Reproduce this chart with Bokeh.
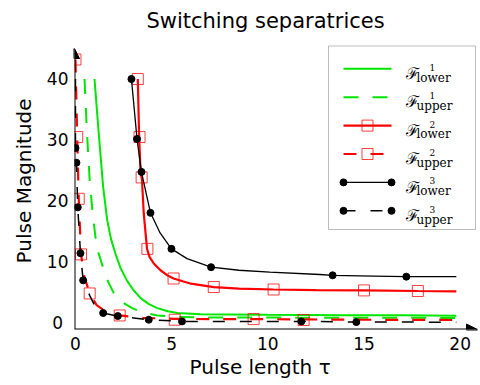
from bokeh.plotting import figure
from bokeh.models import Range1d, FixedTicker, Arrow, NormalHead, Label, BoxAnnotation
from bokeh.embed import file_html
from bokeh.resources import INLINE

# ---------------- data ----------------
TITLE = "Switching separatrices"
X_LABEL = "Pulse length \u03c4"
Y_LABEL = "Pulse Magnitude"
x_ticks = [0, 5, 10, 15, 20]
y_ticks = [0, 10, 20, 30, 40]

# F^1 lower (green solid)
f1_lower_x = [0.99, 1.2, 1.44, 1.65, 1.85, 2.08, 2.35, 2.68, 3.0, 3.4, 3.8, 4.25, 4.8, 5.3, 6.5, 8.0, 10.0, 14.0, 17.0, 19.8]
f1_lower_y = [40.0, 31.5, 22.3, 16.9, 13.8, 11.4, 9.0, 7.0, 5.5, 4.1, 3.2, 2.5, 2.0, 1.7, 1.5, 1.45, 1.4, 1.35, 1.35, 1.25]
# F^1 upper (green dashed)
f1_upper_x = [0.47, 0.6, 0.74, 0.88, 1.04, 1.2, 1.45, 1.7, 2.0, 2.4, 2.95, 3.5, 4.25, 5.3, 7.0, 10.0, 14.0, 19.8]
f1_upper_y = [40.0, 31.1, 23.4, 18.5, 14.1, 11.5, 9.0, 6.8, 4.9, 3.5, 2.5, 1.8, 1.3, 1.05, 0.95, 0.95, 0.92, 0.9]
# F^2 lower (red solid, squares)
f2_lower_x = [3.24, 3.31, 3.38, 3.46, 3.55, 3.72, 3.85, 4.07, 4.42, 4.76, 5.1, 6.0, 7.19, 8.5, 10.3, 12.5, 15.0, 17.8, 19.8]
f2_lower_y = [40.0, 30.5, 25.0, 23.4, 18.0, 12.2, 10.9, 9.8, 8.7, 7.9, 7.35, 6.5, 5.95, 5.7, 5.55, 5.45, 5.4, 5.3, 5.25]
f2_lower_mx = [3.24, 3.33, 3.44, 3.74, 5.1, 7.19, 10.3, 15.0, 17.8]
f2_lower_my = [40.0, 30.5, 23.9, 12.2, 7.35, 5.95, 5.55, 5.4, 5.3]
# F^2 upper (red dashed, squares)
f2_upper_x = [0.0, 0.05, 0.09, 0.17, 0.29, 0.45, 0.74, 1.1, 1.6, 2.3, 3.5, 5.16, 7.0, 9.26, 11.86, 15.0, 19.8]
f2_upper_y = [43.2, 36.0, 30.5, 20.4, 11.3, 7.8, 4.9, 3.0, 1.9, 1.3, 0.9, 0.75, 0.7, 0.7, 0.65, 0.6, 0.55]
f2_upper_mx = [0.0, 0.09, 0.17, 0.29, 0.74, 2.3, 5.16, 9.26, 11.86]
f2_upper_my = [43.2, 30.5, 20.4, 11.3, 4.9, 1.3, 0.6, 0.7, 0.55]
# F^3 lower (black solid, dots)
f3_lower_x = [2.91, 3.2, 3.43, 3.9, 4.4, 4.99, 5.8, 7.05, 8.5, 10.1, 12.7, 13.37, 15.5, 17.2, 19.8]
f3_lower_y = [40.0, 30.2, 24.8, 18.1, 14.8, 12.2, 10.6, 9.2, 8.7, 8.4, 8.0, 7.87, 7.75, 7.65, 7.65]
f3_lower_mx = [2.91, 3.2, 3.43, 3.9, 4.99, 7.05, 13.37, 17.2]
f3_lower_my = [40.0, 30.2, 24.8, 18.1, 12.2, 9.2, 7.87, 7.65]
# F^3 upper (black dashed, dots)
f3_upper_x = [0.0, 0.0, 0.05, 0.12, 0.26, 0.4, 0.75, 1.05, 1.44, 2.2, 3.81, 5.54, 8.0, 11.74, 14.6, 19.8]
f3_upper_y = [40.0, 28.7, 26.3, 19.0, 11.5, 7.05, 4.5, 2.6, 1.7, 1.2, 0.6, 0.33, 0.3, 0.33, 0.22, 0.2]
f3_upper_mx = [0.0, 0.05, 0.12, 0.26, 0.4, 1.44, 2.2, 3.81, 5.54, 11.74, 14.6]
f3_upper_my = [28.7, 26.3, 19.0, 11.5, 7.05, 1.7, 1.2, 0.6, 0.33, 0.33, 0.22]

legend_sup = ["1", "1", "2", "2", "3", "3"]
legend_sub = ["lower", "upper", "lower", "upper", "lower", "upper"]

# ---------------- layout ----------------
W, H = 479, 384
BL, BR, BT, BB = 74, 2, 0, 55
FW = W - BL - BR
FH = H - BT - BB          # frame reaches the canvas top; title drawn inside it
X0 = BL
X1 = X0 + FW
Y_TOP = BT
Y_BOT = Y_TOP + FH
PX_PER_Y = 281 / 46.0
Y_MIN = -1.0
Y_MAX = Y_MIN + FH / PX_PER_Y
Y_AXIS_END = 45
NB = "\u00a0"

GREEN = "#00e600"
RED = "#ff0000"
BLACK = "#000000"

p = figure(width=W, height=H, x_range=Range1d(-0.05, 20.9), y_range=Range1d(Y_MIN, Y_MAX),
           output_backend="svg", toolbar_location=None,
           min_border_left=BL, min_border_right=BR, min_border_top=BT, min_border_bottom=BB)
p.title.text = ""
p.extra_x_ranges = {"px": Range1d(X0, X1)}
p.extra_y_ranges = {"py": Range1d(Y_BOT, Y_TOP)}
p.outline_line_color = None
p.grid.visible = False
p.background_fill_color = "white"

for ax in (p.xaxis[0], p.yaxis[0]):
    ax.axis_line_color = None
    ax.major_tick_out = 0
    ax.major_tick_in = 0
    ax.minor_tick_out = 0
    ax.minor_tick_in = 0
    ax.major_label_text_font = "DejaVu Sans"
    ax.major_label_text_font_size = "17px"
    ax.major_label_text_color = "black"
    ax.axis_label_text_font = "DejaVu Sans"
    ax.axis_label_text_font_size = "20px"
    ax.axis_label_text_font_style = "normal"
    ax.axis_label_text_color = "black"
p.xaxis.ticker = FixedTicker(ticks=x_ticks)
p.yaxis.ticker = FixedTicker(ticks=y_ticks)
p.xaxis.major_label_standoff = 7
p.yaxis.major_label_standoff = 6
p.yaxis.major_label_overrides = {0: "0" + NB}
p.xaxis.axis_label = X_LABEL + NB * 5
p.yaxis.axis_label = Y_LABEL + NB * 5
p.xaxis.axis_label_standoff = 2
p.yaxis.axis_label_standoff = 8

# title (canvas pixel coordinates, inside the frame)
p.add_layout(Label(x=265, y=20, text=TITLE, x_range_name="px", y_range_name="py",
                   text_font="DejaVu Sans", text_font_size="21px", text_align="center",
                   text_baseline="alphabetic", text_color="black"))

# curves
p.line(f1_lower_x, f1_lower_y, line_color=GREEN, line_width=2)
p.line(f1_upper_x, f1_upper_y, line_color=GREEN, line_width=2, line_dash="15 14")
p.line(f2_lower_x, f2_lower_y, line_color=RED, line_width=2.2)
p.scatter(f2_lower_mx, f2_lower_my, marker="square", size=11, fill_color=None,
          line_color=RED, line_alpha=0.75, line_width=1)
p.line(f2_upper_x, f2_upper_y, line_color=RED, line_width=2.2, line_dash="13 14")
p.scatter(f2_upper_mx, f2_upper_my, marker="square", size=11, fill_color=None,
          line_color=RED, line_alpha=0.75, line_width=1)
p.line(f3_lower_x, f3_lower_y, line_color=BLACK, line_width=1.3)
p.scatter(f3_lower_mx, f3_lower_my, marker="circle", size=7, fill_color=BLACK, line_color=BLACK)
p.line(f3_upper_x, f3_upper_y, line_color=BLACK, line_width=1.5, line_dash="12 15")
p.scatter(f3_upper_mx, f3_upper_my, marker="circle", size=7, fill_color=BLACK, line_color=BLACK)

# axes with arrows
p.add_layout(Arrow(end=NormalHead(size=11, fill_color=BLACK, line_color=BLACK),
                   x_start=-0.05, y_start=Y_MIN, x_end=20.9, y_end=Y_MIN, line_width=2, line_color=BLACK))
p.add_layout(Arrow(end=NormalHead(size=10, fill_color=BLACK, line_color=BLACK),
                   x_start=-0.05, y_start=Y_MIN, x_end=-0.05, y_end=Y_AXIS_END, line_width=2, line_color=BLACK))

# legend (canvas pixel coordinates)
LEG_L, LEG_R, LEG_T, LEG_B = 328, 475, 45.5, 229
ROW0, ROW_STEP = 68.3, 28.4
SX0, SX1 = 343, 391
p.add_layout(BoxAnnotation(left=LEG_L, right=LEG_R, top=LEG_T, bottom=LEG_B,
                           x_range_name="px", y_range_name="py", level="underlay",
                           fill_color="white", fill_alpha=1, line_color="#222222", line_width=1))

styles = [
    dict(color=GREEN, width=2, dash="solid", marker=None),
    dict(color=GREEN, width=2, dash="15 14", marker=None),
    dict(color=RED, width=2.2, dash="solid", marker="square"),
    dict(color=RED, width=2.2, dash="13 14", marker="square"),
    dict(color=BLACK, width=1.3, dash="solid", marker="circle"),
    dict(color=BLACK, width=1.5, dash="12 15", marker="circle"),
]
for i, st in enumerate(styles):
    ry = ROW0 + i * ROW_STEP
    p.line([SX0, SX1], [ry, ry], x_range_name="px", y_range_name="py",
           line_color=st["color"], line_width=st["width"], line_dash=st["dash"])
    if st["marker"] == "square":
        p.scatter([(SX0 + SX1) / 2], [ry], x_range_name="px", y_range_name="py",
                  marker="square", size=11, fill_color=None, line_color=RED,
                  line_alpha=0.75, line_width=1)
    elif st["marker"] == "circle":
        p.scatter([SX0, SX1], [ry, ry], x_range_name="px", y_range_name="py",
                  marker="circle", size=7, fill_color=BLACK, line_color=BLACK)
    p.add_layout(Label(x=405, y=ry + 4.7, text="\u2131", x_range_name="px", y_range_name="py",
                       text_font="DejaVu Serif", text_font_size="16px", text_align="left",
                       text_baseline="alphabetic", text_color="black"))
    p.add_layout(Label(x=429, y=ry - 1.6, text=legend_sup[i], x_range_name="px", y_range_name="py",
                       text_font="DejaVu Serif", text_font_size="9px", text_align="left",
                       text_baseline="alphabetic", text_color="black"))
    p.add_layout(Label(x=416, y=ry + 8.8, text=legend_sub[i], x_range_name="px", y_range_name="py",
                       text_font="DejaVu Serif", text_font_size="12px", text_align="left",
                       text_baseline="alphabetic", text_color="black"))

open("out.html", "w").write(file_html(p, INLINE))
